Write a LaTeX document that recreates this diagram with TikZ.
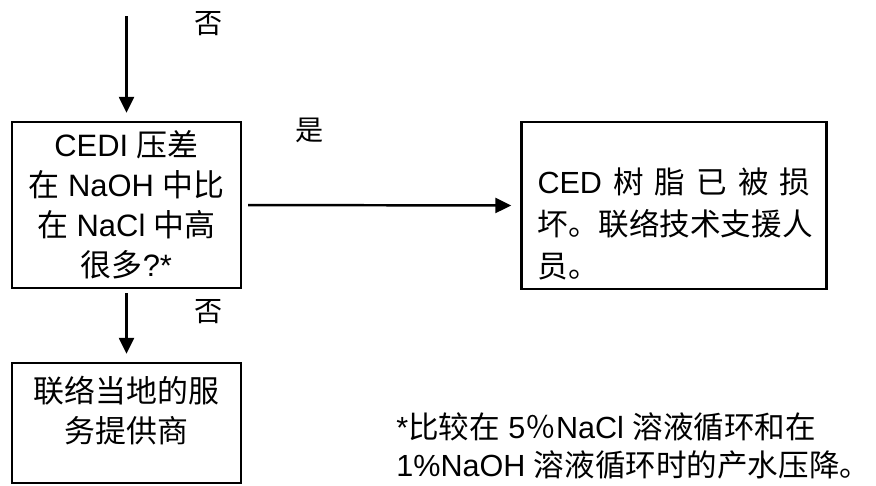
\documentclass[tikz,border=0pt]{standalone}
\usepackage{fontspec}
\setmainfont{Liberation Sans}
\newfontfamily\cjk{Noto Sans CJK SC}
\newcommand{\zh}[1]{{\cjk #1}}
\usetikzlibrary{arrows.meta,positioning}

\begin{document}
\begin{tikzpicture}[x=0.02cm,y=-0.02cm,
    box/.style={draw,line width=1.4pt,inner sep=0pt},
    arr/.style={line width=1.4pt,-{Triangle[length=0.32cm,width=0.3cm]}},
    lbl/.style={inner sep=0pt,font=\cjk\fontsize{16}{18}\selectfont}]
  \useasboundingbox (0,0) rectangle (876,485);

  \coordinate (start) at (126.5,16);
  \node[box,align=center,minimum width=4.58cm,minimum height=3.32cm,
    font=\fontsize{17.6}{22.7}\selectfont] (check) at (126.5,205)
    {CEDI \zh{压差}\\ \zh{在} NaOH \zh{中比}\\ \zh{在} NaCl \zh{中高}\\ \zh{很多}?*};
  \node[box,align=center,minimum width=4.58cm,minimum height=2.4cm,
    font=\fontsize{17.6}{22.7}\selectfont] (contact) at (126.5,423)
    {\zh{联络当地的服}\\ \zh{务提供商}\rule[-0.55cm]{0pt}{0.55cm}};
  \node[box,align=left,text width=5.46cm,inner xsep=0.32cm,minimum height=3.34cm,
    font=\fontsize{17.4}{24}\selectfont] (damaged) at (674,205.5)
    {\rule{0pt}{1.26cm}CED\hfill\zh{树}\hfill\zh{脂}\hfill\zh{已}\hfill\zh{被}\hfill\zh{损}\\
     \zh{坏。联络技术支援人}\\ \zh{员。}};

  \draw[arr,shorten >=0.16cm] (start) -- (check.north);
  \draw[arr,shorten <=0.08cm,shorten >=0.16cm] (check.south) -- (contact.north);
  \draw[arr,shorten <=0.12cm,shorten >=0.18cm] (check.east) -- (damaged.west);

  \node[lbl] (no1) at (209,24) {否};
  \node[lbl] (no2) at (209,312) {否};
  \node[lbl] (yes) at (310,130) {是};

  \node[anchor=west,align=left,inner sep=0pt,font=\fontsize{17.4}{21.6}\selectfont] (note) at (396,446)
    {*\zh{比较在} 5\zh{％}NaCl \zh{溶液循环和在}\\ 1\%NaOH \zh{溶液循环时的产水压降。}};
\end{tikzpicture}
\end{document}
